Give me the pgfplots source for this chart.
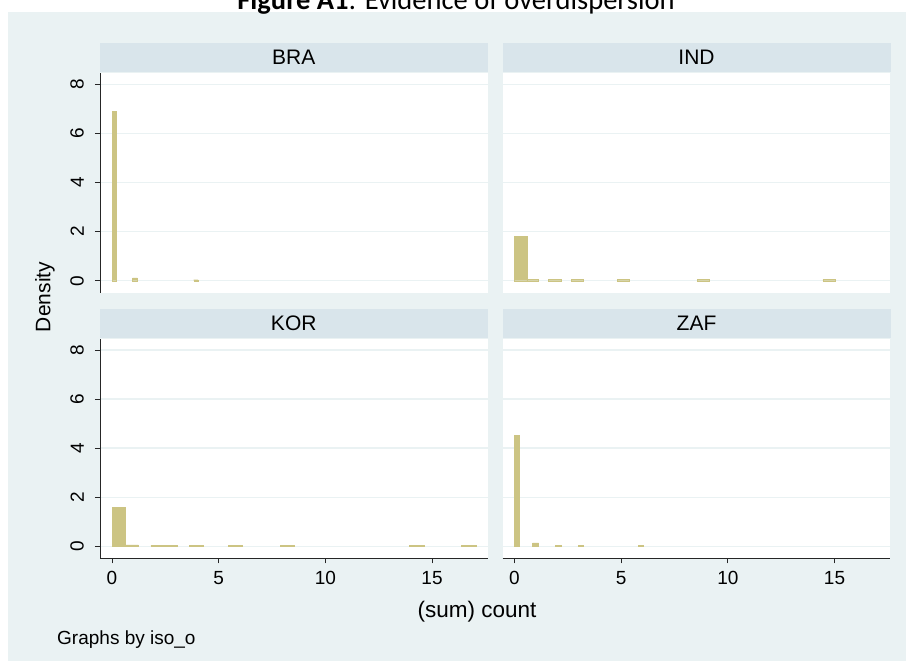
\documentclass[border=0pt]{standalone}
\usepackage{fontspec}
\setmainfont{Liberation Sans}
\newfontfamily\titlefont{Carlito}
\usepackage{pgfplots}
\pgfplotsset{compat=1.18}
\definecolor{bgout}{RGB}{234,242,243}
\definecolor{strip}{RGB}{217,229,235}
\definecolor{khaki}{RGB}{204,196,131}
\definecolor{gridc}{RGB}{234,242,243}
\newcommand{\hbin}[3]{\addplot[fill=khaki, draw=khaki, line width=0.4pt] coordinates {(#1,0) (#1,#3) (#2,#3) (#2,0)} \closedcycle;}
\pgfplotsset{panel/.style={scale only axis, width=387.5pt, height=220pt,
  xmin=-0.5625, xmax=17.6, ymin=-0.5, ymax=8.47,
  ytick={0,2,4,6,8}, xtick={0,5,10,15},
  ymajorgrids, grid style={gridc, line width=1.3pt},
  axis background/.style={fill=white},
  separate axis lines, axis x line*=bottom, axis y line*=left,
  axis line style={-, line width=0.8pt, black!85},
  tick align=outside, major tick length=5pt,
  tick style={black!85, line width=0.8pt},
  /pgf/number format/assume math mode=true,
  ticklabel style={font=\fontsize{19}{21}\selectfont},
  yticklabel style={rotate=90, anchor=south, inner sep=11pt},
  xticklabel style={inner sep=3pt, yshift=-5pt}},
  toprow/.style={xtick=\empty, x axis line style={draw=none}},
  rightcol/.style={yticklabels={}, y axis line style={draw=none}, ytick style={draw=none}}}
\begin{document}
\begin{tikzpicture}[x=1pt, y=1pt]
\useasboundingbox (0,0) rectangle (908,-668);
\fill[white] (0,0) rectangle (908,-668);
\fill[bgout] (8,-12) rectangle (906,-661);
\node[anchor=base] at (456,-10) {\titlefont\fontsize{28.5}{32}\selectfont\textbf{Figure A1}: Evidence of overdispersion};
% headers
\fill[strip] (100,-43) rectangle (487.5,-72);
\fill[strip] (502.5,-43) rectangle (890.5,-72);
\fill[strip] (100,-309) rectangle (487.5,-338);
\fill[strip] (502.5,-309) rectangle (890.5,-338);
\node at (293.75,-57.5) {\fontsize{21}{23}\selectfont BRA};
\node at (696.5,-57.5) {\fontsize{21}{23}\selectfont IND};
\node at (293.75,-323.5) {\fontsize{21}{23}\selectfont KOR};
\node at (696.5,-323.5) {\fontsize{21}{23}\selectfont ZAF};
% BRA
\begin{axis}[panel, toprow, at={(100pt,-73pt)}, anchor=north west]
\hbin{0}{0.19}{6.9}
\hbin{0.97}{1.19}{0.12}
\hbin{3.83}{4.04}{0.04}
\end{axis}
% IND
\begin{axis}[panel, toprow, rightcol, at={(502.5pt,-73pt)}, anchor=north west]
\hbin{0}{0.58}{1.81}
\hbin{0.58}{1.11}{0.07}
\hbin{1.6}{2.2}{0.05}
\hbin{2.67}{3.23}{0.05}
\hbin{4.83}{5.39}{0.05}
\hbin{8.56}{9.14}{0.05}
\hbin{14.45}{15.03}{0.05}
\end{axis}
% KOR
\begin{axis}[panel, at={(100pt,-338.5pt)}, anchor=north west]
\hbin{0}{0.64}{1.59}
\hbin{0.64}{1.24}{0.06}
\hbin{1.82}{2.45}{0.04}
\hbin{2.45}{3.07}{0.04}
\hbin{3.63}{4.28}{0.04}
\hbin{5.45}{6.10}{0.04}
\hbin{7.89}{8.54}{0.04}
\hbin{13.94}{14.63}{0.04}
\hbin{16.37}{17.06}{0.04}
\end{axis}
% ZAF
\begin{axis}[panel, rightcol, at={(502.5pt,-338.5pt)}, anchor=north west]
\hbin{0}{0.23}{4.51}
\hbin{0.85}{1.13}{0.14}
\hbin{1.9}{2.19}{0.04}
\hbin{2.99}{3.24}{0.04}
\hbin{5.79}{6.05}{0.04}
\end{axis}
\node[rotate=90] at (45,-297) {\fontsize{21}{23}\selectfont Density};
\node at (477,-612) {\fontsize{22.5}{25}\selectfont (sum) count};
\node[anchor=west, inner sep=0pt] at (57,-640) {\fontsize{19}{21}\selectfont Graphs by iso\_o};
\end{tikzpicture}
\end{document}
